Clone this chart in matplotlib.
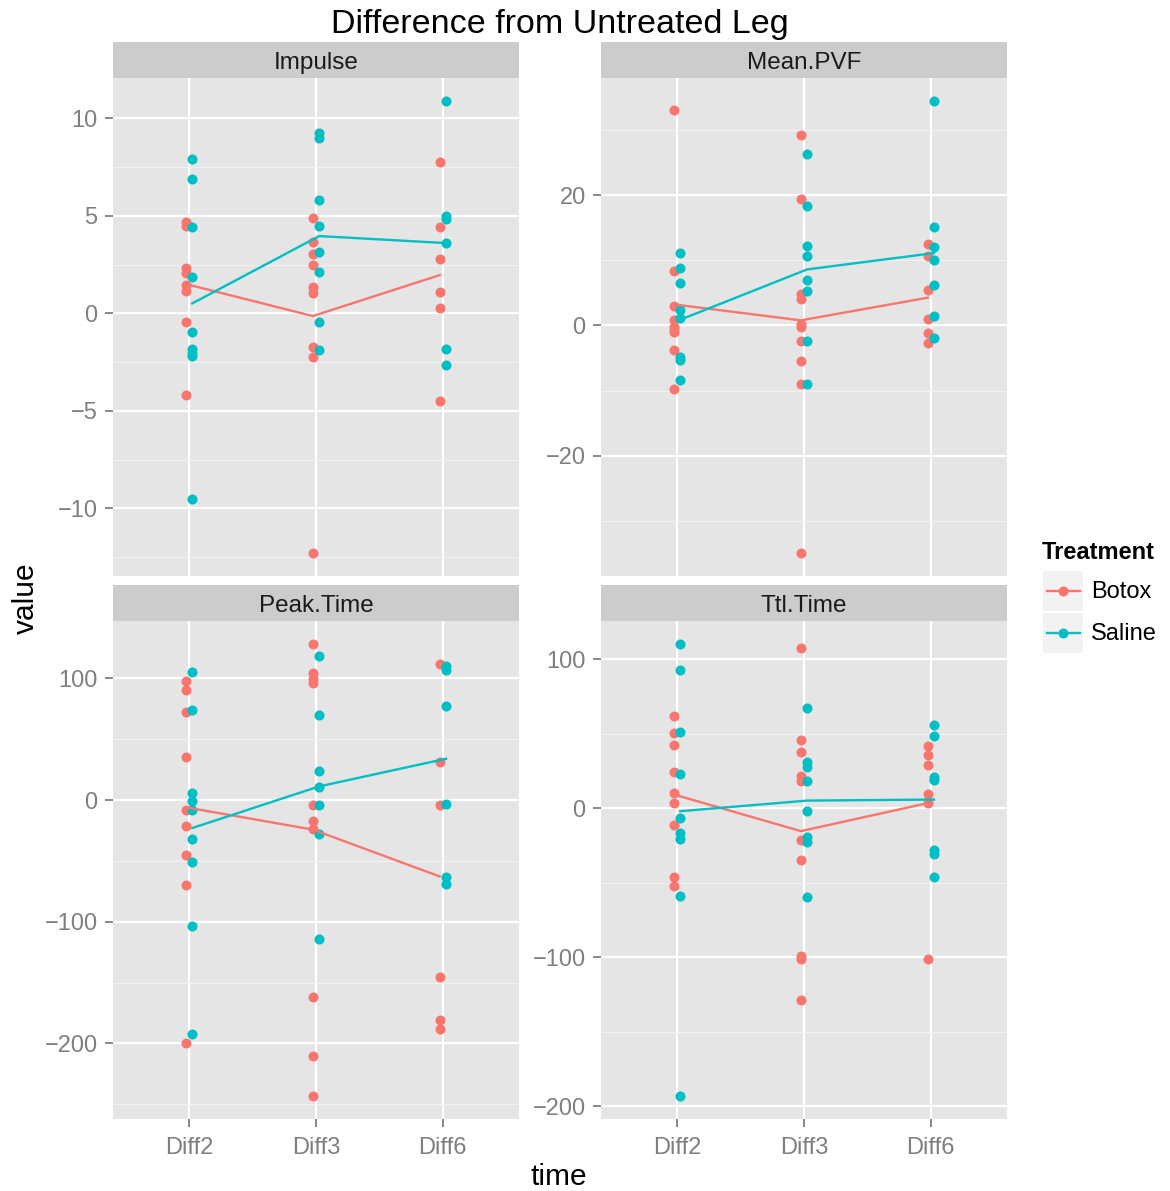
import numpy as np
import matplotlib.pyplot as plt
from matplotlib.patches import Rectangle
from matplotlib.ticker import MultipleLocator

plt.rcParams['font.family'] = ['Liberation Sans', 'DejaVu Sans']

# data
times = ['Diff2', 'Diff3', 'Diff6']
treatments = ['Botox', 'Saline']
colors = ['#F8766D', '#00BFC4']
measures = ['Impulse', 'Mean.PVF', 'Peak.Time', 'Ttl.Time']
tick_steps = [5, 20, 100, 100]

impulse_botox = [[4.7, 4.5, 2.3, 2.05, 1.45, 1.15, -0.45, -4.2],
                 [4.9, 3.65, 3.05, 2.5, 1.35, 1.05, -1.7, -2.25, -12.3],
                 [7.75, 4.4, 2.8, 1.1, 0.25, -4.5]]
impulse_saline = [[7.9, 6.9, 4.4, 1.85, -0.95, -1.85, -2.05, -2.2, -9.5],
                  [9.25, 9.0, 5.8, 4.5, 3.15, 2.1, -0.45, -1.9],
                  [10.9, 5.0, 4.85, 3.6, -1.85, -2.65]]
impulse_botox_mean = [1.5, -0.14, 1.96]
impulse_saline_mean = [0.51, 3.96, 3.6]

pvf_botox = [[33.0, 8.3, 2.9, 0.9, -0.25, -0.75, -1.0, -3.75, -9.75],
             [29.3, 19.4, 4.85, 4.1, 0.25, -0.25, -2.4, -5.5, -8.95, -35.0],
             [12.5, 10.6, 5.4, 1.0, -1.15, -2.75]]
pvf_saline = [[11.1, 8.8, 6.5, 2.4, 1.2, -4.85, -5.35, -8.45],
              [26.3, 18.25, 12.15, 10.6, 6.95, 5.25, -2.4, -9.05],
              [34.5, 15.1, 12.0, 10.1, 6.2, 1.45, -1.95]]
pvf_botox_mean = [3.22, 0.77, 4.25]
pvf_saline_mean = [0.87, 8.59, 11.1]

peak_botox = [[98, 90.5, 72, 35, -8, -21.5, -45.5, -69.5, -199.5],
              [128.5, 104.5, 99.5, 96.5, -4, -17, -24, -161.5, -210, -243.5],
              [111.5, 31, -4.5, -145.5, -180.5, -188.5]]
peak_saline = [[105.5, 74, 5.5, -0.5, -8, -32, -51, -103.5, -192],
               [118, 70, 24, 11, -4.5, -28, -114.5],
               [110.5, 107, 77.5, -3, -63, -69]]
peak_botox_mean = [-6.0, -24.3, -62.8]
peak_saline_mean = [-23.0, 11.2, 33.9]

ttl_botox = [[62, 50.5, 42.5, 24, 10.5, 3.5, -11, -46, -52],
             [107.5, 45.5, 37.5, 21.5, 18.5, -21.5, -34.5, -99, -101, -128.5],
             [42, 36, 29, 9.5, 3.5, -101.5]]
ttl_saline = [[110.5, 93, 51.5, 23, -6.5, -16.5, -20.5, -59, -193.5],
              [67.5, 31, 27.5, 18.5, -2, -19.5, -23, -59.5],
              [56, 48.5, 21, 19, -28, -30.5, -46.5]]
ttl_botox_mean = [9.2, -15.4, 3.4]
ttl_saline_mean = [-2.0, 5.1, 5.8]

points = [(impulse_botox, impulse_saline), (pvf_botox, pvf_saline),
          (peak_botox, peak_saline), (ttl_botox, ttl_saline)]
means = [(impulse_botox_mean, impulse_saline_mean), (pvf_botox_mean, pvf_saline_mean),
         (peak_botox_mean, peak_saline_mean), (ttl_botox_mean, ttl_saline_mean)]

# layout in pixels
W, H = 1170, 1191
panel_origins = [(113, 78), (601, 78), (113, 621), (601, 621)]
pw, ph, strip_h = 406, 498, 36
dodge = [-0.025, 0.025]
grey50 = '#7F7F7F'
dot_size = 52

fig = plt.figure(figsize=(W / 100, H / 100), dpi=100)

for i, name in enumerate(measures):
    left, top = panel_origins[i]
    ax = fig.add_axes([left / W, 1 - (top + ph) / H, pw / W, ph / H])
    ax.set_facecolor('#E5E5E5')

    allvals = np.concatenate([np.concatenate(g) for g in points[i]])
    lo, hi = allvals.min(), allvals.max()
    pad = 0.05 * (hi - lo)
    ax.set_ylim(lo - pad, hi + pad)
    ax.set_xlim(0.4, 3.6)

    x = np.arange(1, len(times) + 1)
    for j, col in enumerate(colors):
        for k, vals in enumerate(points[i][j]):
            ax.scatter(np.full(len(vals), x[k] + dodge[j]), vals, s=dot_size,
                       color=col, linewidths=0, zorder=3)
        ax.plot(x + dodge[j], means[i][j], color=col, lw=1.7, zorder=4)

    ax.set_xticks(x)
    ax.set_xticklabels(times)
    ax.yaxis.set_major_locator(MultipleLocator(tick_steps[i]))
    ax.yaxis.set_minor_locator(MultipleLocator(tick_steps[i] / 2))
    ax.set_axisbelow(True)
    ax.grid(which='major', color='white', lw=1.6)
    ax.grid(which='minor', axis='y', color='#F2F2F2', lw=0.8)
    for s in ax.spines.values():
        s.set_visible(False)
    ax.tick_params(which='major', length=6, width=1.3, color=grey50,
                   labelcolor=grey50, labelsize=17, pad=5)
    ax.tick_params(axis='x', pad=7)
    ax.tick_params(which='minor', length=0)
    if i < 2:
        ax.tick_params(axis='x', length=0, labelbottom=False)

    # facet strip
    sax = fig.add_axes([left / W, 1 - top / H, pw / W, strip_h / H])
    sax.set_facecolor('#CCCCCC')
    sax.set_xticks([])
    sax.set_yticks([])
    for s in sax.spines.values():
        s.set_visible(False)
    sax.text(0.5, 0.42, name, transform=sax.transAxes, ha='center', va='center',
             fontsize=17.5, color='#1A1A1A')

# overlay in pixel coordinates for titles and legend
lax = fig.add_axes([0, 0, 1, 1], facecolor='none')
lax.set_xlim(0, W)
lax.set_ylim(H, 0)
lax.axis('off')

lax.text(560, 33, 'Difference from Untreated Leg', fontsize=24.5,
         ha='center', va='baseline')
lax.text(559, 1185, 'time', fontsize=21.5, ha='center', va='baseline')
lax.text(26, 598, 'value', fontsize=21.5, rotation=90, ha='center', va='center')

lax.text(1042, 559, 'Treatment', fontsize=17, fontweight='bold', va='baseline')
for k, (name, col) in enumerate(zip(treatments, colors)):
    y0 = 571 + k * 42
    lax.add_patch(Rectangle((1043, y0), 40, 40, facecolor='#F2F2F2', edgecolor='none'))
    lax.plot([1047, 1080], [y0 + 20, y0 + 20], color=col, lw=1.7)
    lax.scatter([1063], [y0 + 20], s=dot_size, color=col, linewidths=0)
    lax.text(1091, y0 + 21, name, fontsize=17, va='center')

fig.savefig('out.png', dpi=100)
